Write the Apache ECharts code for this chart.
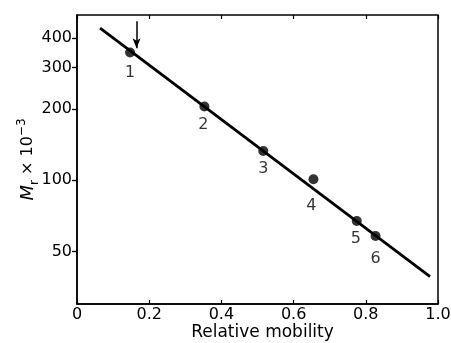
<!DOCTYPE html>
<html>
<head>
<meta charset="utf-8">
<script src="https://cdn.jsdelivr.net/npm/echarts@6/dist/echarts.min.js"></script>
<style>html,body{margin:0;padding:0;background:#fff}#c{width:451px;height:343px}</style>
</head>
<body>
<div id="c"></div>
<script>
var pointLabels = ['1', '2', '3', '4', '5', '6'];
var mobility = [0.147, 0.353, 0.516, 0.655, 0.775, 0.827];
var mass = [347, 205, 133, 101, 67.3, 58.2];
var fitMobility = [0.064, 0.978];
var fitMass = [440, 39.2];
var arrowMobility = [0.165, 0.165];
var arrowMass = [470, 362];
var xTicks = [0, 0.2, 0.4, 0.6, 0.8, 1.0];
var yTicks = [50, 100, 200, 300, 400];

var labelOffsets = [[0, 20], [-1, 18], [0, 18], [-2, 27], [-1, 18], [0, 23]];
var font = 'DejaVu Sans, sans-serif';

var chart = echarts.init(document.getElementById('c'));
var pts = mobility.map(function (x, i) {
  return { value: [x, mass[i]], label: { show: true, formatter: pointLabels[i], position: 'inside', offset: labelOffsets[i] } };
});
var fit = fitMobility.map(function (x, i) { return [x, fitMass[i]]; });

chart.setOption({
  animation: false,
  grid: { left: 77, right: 13, top: 15, bottom: 39, show: true, borderColor: '#000', borderWidth: 1.5,
    containLabel: false, outerBoundsMode: 'none' },
  xAxis: [{
    type: 'value', min: 0, max: 1, interval: 0.2,
    name: 'Relative mobility', nameLocation: 'middle', nameGap: 20, nameMoveOverlap: false,
    nameTextStyle: { color: '#000', fontSize: 17, fontFamily: font, padding: [0, 0, 0, 10] },
    axisLine: { show: true, lineStyle: { color: '#000', width: 1.5 } },
    axisTick: { show: true, inside: true, length: 4, lineStyle: { color: '#000', width: 1.2 } },
    axisLabel: { color: '#000', fontSize: 16, fontFamily: font, margin: 3,
      formatter: function (v) { return v === 0 ? '0' : v.toFixed(1); } },
    splitLine: { show: false }
  }, {
    type: 'value', min: 0, max: 1, interval: 0.2, position: 'top',
    axisLine: { show: false },
    axisTick: { show: true, inside: true, length: 4, lineStyle: { color: '#000', width: 1.2 } },
    axisLabel: { show: false }, splitLine: { show: false }
  }],
  yAxis: [{
    type: 'log', min: 30, max: 500,
    name: '{m|M}{sub|r}{t| × 10}{sup|−3}', nameLocation: 'middle', nameRotate: 90, nameGap: 39, nameMoveOverlap: false,
    nameTextStyle: { color: '#000', fontSize: 16, fontFamily: font,
      rich: {
        m: { fontSize: 18, fontStyle: 'italic', fontFamily: font, color: '#000', lineHeight: 20 },
        sub: { fontSize: 12, fontFamily: font, color: '#000', verticalAlign: 'bottom', lineHeight: 20, padding: [0, 0, -3, 0] },
        t: { fontSize: 16, fontFamily: font, color: '#000', lineHeight: 20 },
        sup: { fontSize: 12, fontFamily: font, color: '#000', verticalAlign: 'top', lineHeight: 20, padding: [-2, 0, 0, 0] }
      } },
    axisLine: { show: true, lineStyle: { color: '#000', width: 1.5 } },
    axisTick: { show: true, inside: false, length: 5, customValues: yTicks, lineStyle: { color: '#000', width: 1.2 } },
    axisLabel: { color: '#000', fontSize: 16, fontFamily: font, margin: 5, customValues: yTicks },
    minorTick: { show: false }, splitLine: { show: false }
  }, {
    type: 'log', min: 30, max: 500, position: 'right',
    axisLine: { show: false },
    axisTick: { show: true, inside: true, length: 4, customValues: yTicks, lineStyle: { color: '#000', width: 1.2 } },
    axisLabel: { show: false, customValues: yTicks }, splitLine: { show: false }
  }],
  series: [{
    type: 'line', data: fit, symbol: 'none', silent: true,
    lineStyle: { color: '#000', width: 2.8 }
  }, {
    type: 'scatter', data: pts, symbol: 'circle', symbolSize: 10,
    itemStyle: { color: '#000' },
    label: { color: '#000', fontSize: 16, fontFamily: font },
    markLine: {
      silent: true, symbol: ['none', 'arrow'], symbolSize: [6, 10],
      label: { show: false },
      lineStyle: { color: '#000', width: 1.5, type: 'solid' },
      data: [[{ coord: [arrowMobility[0], arrowMass[0]] }, { coord: [arrowMobility[1], arrowMass[1]] }]]
    }
  }]
});
</script>
</body>
</html>
